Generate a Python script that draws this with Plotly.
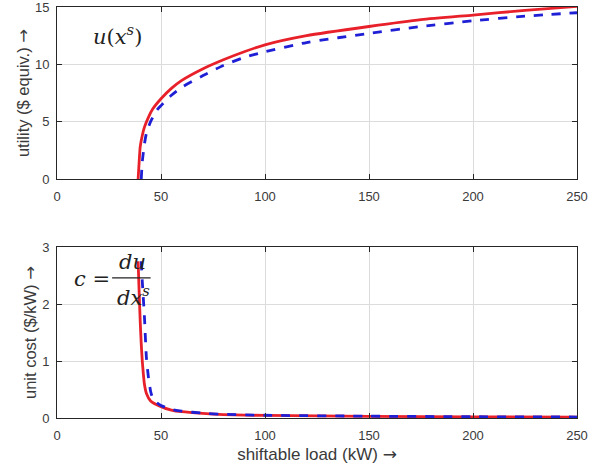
import plotly.graph_objects as go
from plotly.subplots import make_subplots

# Utility curves
red_u_x = [39, 39.5, 40, 41, 42, 44, 46, 50, 55, 60, 70, 80, 90, 100, 120, 150, 175, 200, 225, 250]
red_u_y = [0, 1.5, 2.8, 3.8, 4.5, 5.4, 6.1, 7.0, 7.9, 8.6, 9.6, 10.4, 11.1, 11.7, 12.5, 13.3, 13.9, 14.3, 14.7, 15.05]
blue_u_x = [40.5, 41, 42, 43, 45, 48, 50, 55, 60, 70, 80, 90, 100, 120, 150, 175, 200, 225, 250]
blue_u_y = [0, 1.5, 3.0, 4.0, 5.0, 6.0, 6.4, 7.3, 8.0, 9.0, 9.9, 10.6, 11.1, 11.9, 12.7, 13.3, 13.8, 14.2, 14.5]

# Unit cost curves
red_c_x = [39, 39.5, 40, 40.5, 41, 41.5, 42, 43, 45, 50, 55, 60, 70, 80, 100, 150, 200, 250]
red_c_y = [2.75, 2.2, 1.7, 1.3, 1.0, 0.78, 0.6, 0.43, 0.3, 0.2, 0.14, 0.11, 0.08, 0.06, 0.045, 0.03, 0.02, 0.015]
blue_c_x = [40.5, 41, 42, 43, 44, 45, 46, 48, 50, 55, 60, 70, 80, 100, 150, 200, 250]
blue_c_y = [2.75, 2.4, 1.8, 1.05, 0.7, 0.47, 0.35, 0.27, 0.22, 0.15, 0.12, 0.085, 0.065, 0.048, 0.032, 0.022, 0.017]

x_ticks = [0, 50, 100, 150, 200, 250]
u_ticks = [0, 5, 10, 15]
c_ticks = [0, 1, 2, 3]

RED = "#e8202a"
BLUE = "#1f1fd6"
TXT = "#3a3a3a"
SANS = "Liberation Sans, Arial"
ARROW = "<span style='font-family:DejaVu Sans'>→</span>"

fig = make_subplots(rows=2, cols=1)

fig.add_trace(go.Scatter(x=red_u_x, y=red_u_y, mode="lines", line=dict(color=RED, width=2.8, shape="spline", smoothing=0.6)), row=1, col=1)
fig.add_trace(go.Scatter(x=blue_u_x, y=blue_u_y, mode="lines", line=dict(color=BLUE, width=2.8, dash="dash", shape="spline", smoothing=0.6)), row=1, col=1)
fig.add_trace(go.Scatter(x=red_c_x, y=red_c_y, mode="lines", line=dict(color=RED, width=2.8, shape="spline", smoothing=0.5)), row=2, col=1)
fig.add_trace(go.Scatter(x=blue_c_x, y=blue_c_y, mode="lines", line=dict(color=BLUE, width=2.8, dash="dash", shape="spline", smoothing=0.5)), row=2, col=1)

axis_common = dict(showline=True, linecolor="#262626", linewidth=1, mirror="ticks", ticks="inside",
                   ticklen=5, tickcolor="#262626", showgrid=True, gridcolor="#dcdcdc", gridwidth=1,
                   zeroline=False, automargin=False, ticklabeloverflow="allow",
                   tickfont=dict(family=SANS, size=13, color=TXT))

fig.update_xaxes(range=[0, 250], tickvals=x_ticks, domain=[0, 1], ticklabelstandoff=5, **axis_common)
fig.update_yaxes(ticklabelstandoff=4, **axis_common)
fig.update_yaxes(range=[0, 15], tickvals=u_ticks, domain=[0.5815, 1], row=1, col=1,
                 title=dict(text="utility ($ equiv.) " + ARROW, font=dict(family=SANS, size=16.5, color=TXT), standoff=1))
fig.update_yaxes(range=[0, 3], tickvals=c_ticks, domain=[0, 0.416], row=2, col=1,
                 title=dict(text="unit cost ($/kW) " + ARROW, font=dict(family=SANS, size=16.5, color=TXT), standoff=1))
fig.update_xaxes(row=2, col=1,
                 title=dict(text="shiftable load (kW) " + ARROW, font=dict(family=SANS, size=17, color=TXT), standoff=6))

serif = dict(family="DejaVu Serif, Liberation Serif", size=21, color="#222")
fig.add_annotation(x=29, y=12.6, xref="x", yref="y", text="<i>u</i>(<i>x</i><sup><i>s</i></sup>)",
                   showarrow=False, font=serif)
fig.add_annotation(x=7, y=2.44, xref="x2", yref="y2", text="<i>c</i> =", showarrow=False, font=serif, xanchor="left")
fig.add_annotation(x=36.5, y=2.73, xref="x2", yref="y2", text="<i>du</i>", showarrow=False, font=serif)
fig.add_annotation(x=36.8, y=2.14, xref="x2", yref="y2", text="<i>dx</i><sup><i>s</i></sup>", showarrow=False, font=serif)
fig.add_shape(type="line", x0=26.5, x1=45, y0=2.46, y1=2.46, xref="x2", yref="y2", line=dict(color="#222", width=1.2))

fig.update_layout(width=603, height=471, margin=dict(l=57, r=26, t=7, b=53),
                  plot_bgcolor="white", paper_bgcolor="white", showlegend=False)

fig.write_html("out.html", config={"displayModeBar": False},
               post_script="document.body.style.margin='0px';")
